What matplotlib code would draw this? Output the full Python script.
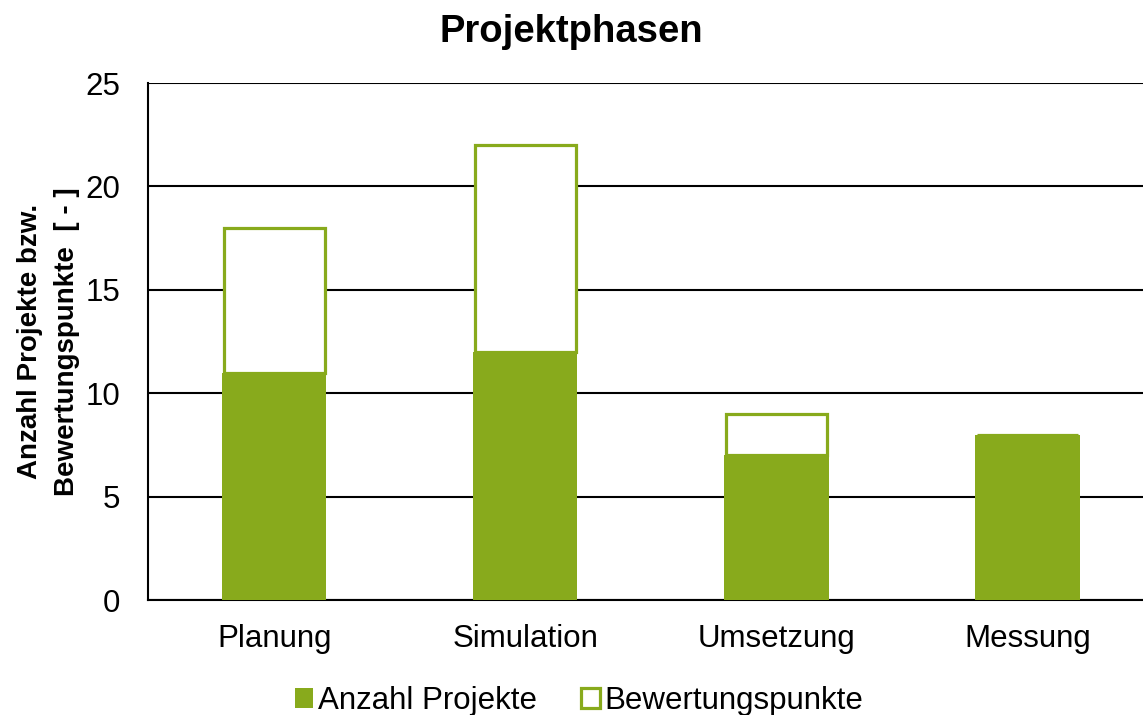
import numpy as np
import matplotlib.pyplot as plt

plt.rcParams['font.family'] = ['Liberation Sans', 'DejaVu Sans']

phasen = ['Planung', 'Simulation', 'Umsetzung', 'Messung']
anzahl_projekte = [11, 12, 7, 8]
bewertungspunkte = [7, 10, 2, 0]

gruen = '#88aa1c'

fig = plt.figure(figsize=(11.43, 7.15), dpi=100)
ax = fig.add_axes([0.1295, 0.1608, 0.8705, 0.7231])

x = np.arange(len(phasen))
breite = 0.415
ax.bar(x, anzahl_projekte, breite, color=gruen, label='Anzahl Projekte', zorder=3)
# Umrandung etwas schmaler, damit sie mit den vollen Balken abschliesst
ax.bar(x, bewertungspunkte, breite - 0.011, bottom=anzahl_projekte, facecolor='white',
       edgecolor=gruen, linewidth=2.3, label='Bewertungspunkte', zorder=3)

ax.set_xlim(-0.503, 3.46)
ax.set_ylim(0, 25)
ax.set_yticks(range(0, 26, 5))
ax.set_xticks(x)
ax.set_xticklabels(phasen)
ax.tick_params(axis='both', labelsize=22.5, length=0)
ax.tick_params(axis='x', pad=17)
ax.tick_params(axis='y', pad=20)
ax.yaxis.grid(True, color='black', linewidth=1.5, zorder=0)
ax.set_axisbelow(True)
for s in ['top', 'right']:
    ax.spines[s].set_visible(False)
ax.spines['left'].set_linewidth(1.5)
ax.spines['bottom'].set_linewidth(1.5)
ax.spines['bottom'].set_zorder(2)

ax.set_ylabel('Anzahl Projekte bzw.\nBewertungspunkte  [ - ]', fontsize=20,
              fontweight='bold', labelpad=4, linespacing=1.55)
fig.suptitle('Projektphasen', fontsize=27.5, fontweight='bold', x=0.5, y=0.98)

ax.legend(loc='center', bbox_to_anchor=(0.433, -0.195), ncol=2, frameon=False,
          fontsize=22.5, handlelength=0.6, handleheight=0.6, handletextpad=0.15,
          columnspacing=1.4)

fig.savefig('out.png', dpi=100)
